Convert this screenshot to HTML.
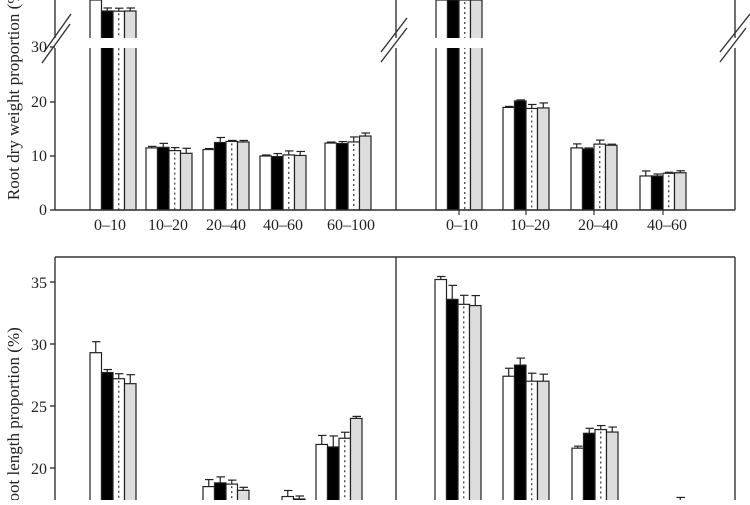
<!DOCTYPE html>
<html><head><style>
body{margin:0;background:#fff;width:750px;height:500px;overflow:hidden}
svg{font-family:"Liberation Serif",serif}
</style></head><body>
<svg id="s" width="750" height="500" xmlns="http://www.w3.org/2000/svg">
<rect width="750" height="500" fill="#fff"/>
<g id="bars"></g>
<g stroke="#333" stroke-width="1.4" fill="none">
<line x1="55" y1="0" x2="55" y2="38"/><line x1="55" y1="48" x2="55" y2="210"/>
<line x1="396" y1="0" x2="396" y2="38"/><line x1="396" y1="48" x2="396" y2="210"/>
<line x1="735" y1="0" x2="735" y2="38"/><line x1="735" y1="48" x2="735" y2="210"/>
<line x1="55" y1="210" x2="735" y2="210"/>
<line x1="50" y1="210" x2="55" y2="210"/><line x1="50" y1="156" x2="55" y2="156"/><line x1="50" y1="102" x2="55" y2="102"/><line x1="50" y1="47" x2="55" y2="47"/>
<line x1="42" y1="63" x2="70" y2="24"/><line x1="44" y1="52" x2="71" y2="14"/>
<line x1="381" y1="62" x2="407" y2="28"/><line x1="381" y1="52" x2="407" y2="18"/>
<line x1="720" y1="62" x2="746" y2="28"/><line x1="720" y1="52" x2="750" y2="14"/>
</g>
<g font-size="16" fill="#222" text-anchor="end">
<text x="47" y="215">0</text><text x="47" y="161">10</text><text x="47" y="107">20</text><text x="47" y="52">30</text>
</g>
<g font-size="16" fill="#222" text-anchor="middle">
<text x="110" y="230">0–10</text><text x="168" y="230">10–20</text><text x="226" y="230">20–40</text><text x="283" y="230">40–60</text><text x="351" y="230">60–100</text>
<text x="462" y="230">0–10</text><text x="530" y="230">10–20</text><text x="598" y="230">20–40</text><text x="667" y="230">40–60</text>
</g>
<text transform="translate(19,92) rotate(-90)" font-size="17" fill="#222" text-anchor="middle">Root dry weight proportion (%)</text>
<g stroke="#333" stroke-width="1.4" fill="none">
<line x1="55" y1="257" x2="735" y2="257"/>
<line x1="55" y1="257" x2="55" y2="500"/><line x1="396" y1="257" x2="396" y2="500"/><line x1="735" y1="257" x2="735" y2="500"/>
<line x1="50" y1="282" x2="55" y2="282"/><line x1="50" y1="344" x2="55" y2="344"/><line x1="50" y1="406" x2="55" y2="406"/><line x1="50" y1="468" x2="55" y2="468"/>
</g>
<g font-size="16" fill="#222" text-anchor="end">
<text x="47" y="288">35</text><text x="47" y="350">30</text><text x="47" y="412">25</text><text x="47" y="474">20</text>
</g>
<text transform="translate(19,420) rotate(-90)" font-size="17" fill="#222" text-anchor="middle">Root length proportion (%)</text>
</svg>
<script>
var g=document.getElementById('bars'),NS="http://www.w3.org/2000/svg";
function el(t,a){var e=document.createElementNS(NS,t);for(var k in a)e.setAttribute(k,a[k]);g.appendChild(e);return e;}
var W=11.5;
function ty(v){return 210-v*5.4;}
function by(v){return 282+(35-v)*12.4;}
function group(x0,vals,errs,yf,base,top,gap,tick){
 for(var i=0;i<4;i++){
  var x=x0+i*W,v=vals[i],y=v===null?top:yf(v);
  var fill=i==1?"#000":(i==3?"#ddd":"#fff");
  el('rect',{x:x,y:y,width:W,height:base-y,fill:fill,stroke:"#222","stroke-width":1.2});
  if(i==2)el('line',{x1:x+W/2,y1:y+2,x2:x+W/2,y2:base,stroke:"#333","stroke-width":1.2,"stroke-dasharray":"2,3"});
  if(v!==null&&errs){var e=errs[i];el('line',{x1:x+W/2,y1:y,x2:x+W/2,y2:y-e,stroke:"#222","stroke-width":1.2});el('line',{x1:x+2,y1:y-e,x2:x+W-1,y2:y-e,stroke:"#222","stroke-width":1.2});}
 }
 if(gap)el('rect',{x:x0-1,y:38,width:4*W+2,height:10,fill:"#fff"});
 if(tick)el('line',{x1:x0+2*W,y1:base,x2:x0+2*W,y2:base+5,stroke:"#333","stroke-width":1.2});
}
var tl=function(v){return v>30?10+(37-v)*3:ty(v);};
group(90,[null,36.8,36.6,36.8],[0,3,3,3],function(v){return v==36.8?11:tl(v);},210,0,true,false);
group(146,[11.5,11.6,11.0,10.5],[1.5,4,3,5],ty,210,0,false,false);
group(203,[11.2,12.5,12.7,12.6],[1,5,1,1.5],ty,210,0,false,false);
group(260,[10,9.9,10.2,10.1],[1,3,4,4],ty,210,0,false,false);
group(325,[12.4,12.3,12.6,13.7],[1,2,5,3],ty,210,0,false,false);
group(436,[null,null,null,null],null,ty,210,0,true,true);
group(503,[19,20.2,18.8,18.9],[1,1,4,5],ty,210,0,false,true);
group(571,[11.5,11.3,12.2,12.0],[4,1,4,1],ty,210,0,false,true);
group(640,[6.3,6.3,6.8,6.9],[5,2,1,2],ty,210,0,false,true);
group(90,[29.3,27.7,27.2,26.8],[11,3,5,9],by,520,0,false,false);
group(203,[18.5,18.8,18.7,18.2],[7,6,4,3],by,520,0,false,false);
group(282,[17.7,17.5,16,16],[6,3,3,3],by,520,0,false,false);
group(316,[21.9,21.7,22.4,24.0],[9,11,6,2],by,520,0,false,false);
group(435,[35.2,33.6,33.2,33.1],[3,14,9,10],by,520,0,false,false);
group(503,[27.4,28.3,27.0,27.0],[8,7,8,7],by,520,0,false,false);
group(572,[21.6,22.8,23.1,22.9],[2,5,4,5],by,520,0,false,false);
group(640,[16,16,16,16.9],[0,0,0,9],by,520,0,false,false);
</script>
</body></html>
